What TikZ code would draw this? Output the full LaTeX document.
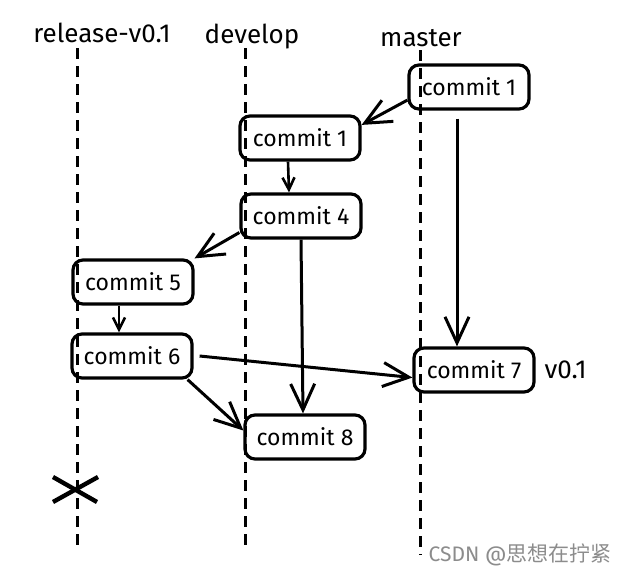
\documentclass[tikz,border=0pt]{standalone}
\usepackage{fontspec}
\setmainfont{Fira Sans}
\newfontfamily\cjk{Noto Sans CJK SC}
\usepackage{xcolor}
\usepackage{tikz}
\usetikzlibrary{arrows.meta}

\begin{document}
\begin{tikzpicture}[x=0.5pt,y=-0.5pt]
\tikzstyle{every node}+=[font=\fontsize{11.5}{14}\selectfont]
\tikzstyle{commit}=[draw, line width=1.6pt, rounded corners=5pt, minimum width=60pt, minimum height=22pt, inner sep=2pt]
\tikzstyle{lanelabel}=[font=\fontsize{13}{15}\selectfont]
\tikzstyle{lane}=[line width=1.5pt, dash pattern=on 5.5pt off 3.5pt]
\tikzstyle{arr}=[line width=1.5pt, -{Straight Barb[length=13pt,width=12pt,line width=1.5pt]}]
\tikzstyle{arrsmall}=[line width=1.3pt, -{Straight Barb[length=6pt,width=6pt,line width=1.3pt]}]
\fill [white] (0,0) rectangle (617,574);
\useasboundingbox (0,0) rectangle (617,574);
\draw (102,33) node [lanelabel] (lrel) {release-v0.1};
\draw (252,37) node [lanelabel] (ldev) {develop};
\draw (421,38) node [lanelabel] (lmas) {master};
\coordinate (relend) at (77,548);
\coordinate (devend) at (245,548);
\coordinate (masend) at (420,555);
\draw [lane] (77,48) -- (relend);
\draw [lane] (245,48) -- (devend);
\draw [lane] (420,50) -- (masend);
\draw (469,87) node [commit] (m1) {commit 1};
\draw (300,138) node [commit] (d1) {commit 1};
\draw (301,216) node [commit] (d4) {commit 4};
\draw (133,282) node [commit] (r5) {commit 5};
\draw (132,356) node [commit] (r6) {commit 6};
\draw (474,370) node [commit] (m7) {commit 7};
\draw (305,437) node [commit] (d8) {commit 8};
\draw (m7.east) node [right=1pt, lanelabel] (tag) {v0.1};
\draw [arr] (m1.192) -- (d1.12);
\draw [arrsmall] ([xshift=-6pt]d1.south) -- ([xshift=-6pt]d4.north);
\draw [arr] (d4.195) -- (r5.21);
\draw [arrsmall] ([xshift=-7pt]r5.south) -- ([xshift=-7pt]r5.south |- r6.north);
\draw [arr] (d4.south) -- ([xshift=-1pt]d8.north);
\draw [arr] ([shift={(-6pt,-4pt)}]m1.south) -- ([xshift=-8.5pt]m7.north);
\draw [arr] ([xshift=3pt]r6.east) -- (m7.187);
\draw [arr] (r6.337) -- (d8.174);
\draw [line width=2.2pt] (53,477) -- (97,502);
\draw [line width=2.2pt] (53,502) -- (98,477);
\draw (520,555) node [text=black!45, font=\fontsize{10.5}{12}\selectfont] (mark) {CSDN @{\cjk 思想在拧紧}};
\end{tikzpicture}
\end{document}
